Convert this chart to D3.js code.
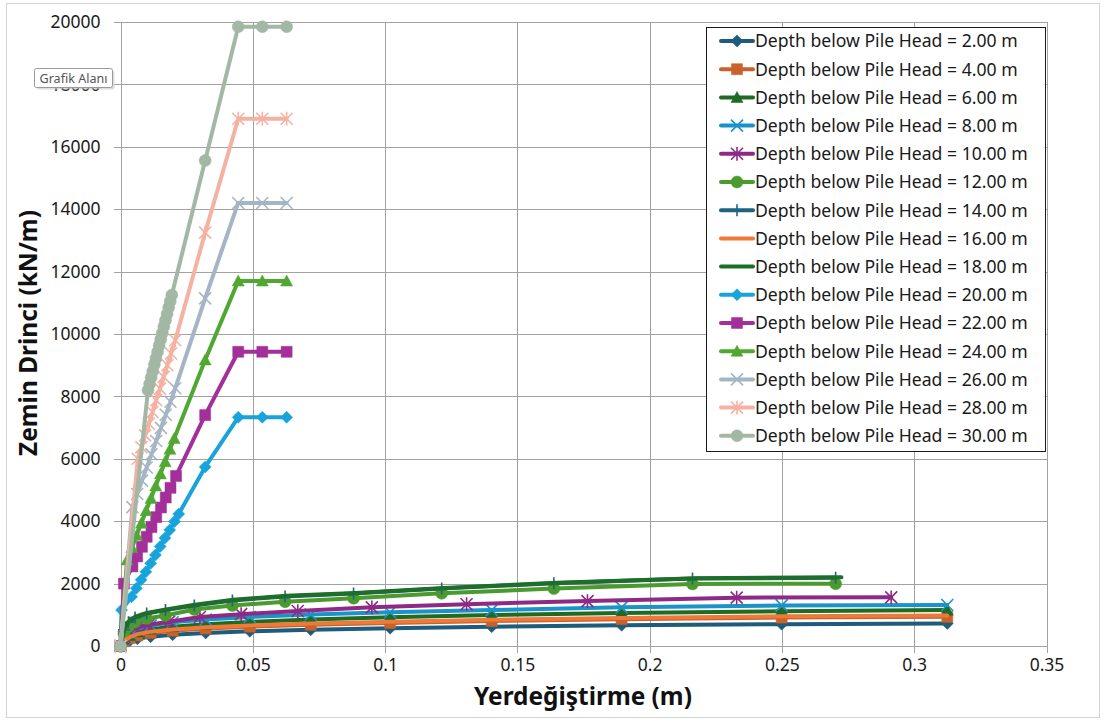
<!DOCTYPE html>
<html><head><meta charset="utf-8">
<script src="https://cdn.jsdelivr.net/npm/d3@7"></script>
<style>body{margin:0;background:#fff;} svg{display:block;}</style>
</head><body>
<svg id="chart" width="1107" height="722"></svg>
<script>
// ---------------- DATA ----------------
const depths = ["2.00","4.00","6.00","8.00","10.00","12.00","14.00","16.00","18.00","20.00","22.00","24.00","26.00","28.00","30.00"];
const xTicks = [0, 0.05, 0.1, 0.15, 0.2, 0.25, 0.3, 0.35];
const xTickLabels = ["0","0.05","0.1","0.15","0.2","0.25","0.3","0.35"];
const yTicks = [0,2000,4000,6000,8000,10000,12000,14000,16000,18000,20000];
const yTickLabels = ["0","2000","4000","6000","8000","10000","12000","14000","16000","18000","20000"];

// soft (large displacement) curves
const xSoftA  = [0, 0.0015, 0.0035, 0.0064, 0.0114, 0.0197, 0.0322, 0.0489, 0.0719, 0.1019, 0.1403, 0.1894, 0.2499, 0.3125];
const xSoft10 = [0, 0.0014, 0.0033, 0.0060, 0.0106, 0.0184, 0.0300, 0.0456, 0.0670, 0.0950, 0.1308, 0.1765, 0.2329, 0.2913];
const xSoft12 = [0, 0.0013, 0.0030, 0.0055, 0.0099, 0.0170, 0.0279, 0.0423, 0.0622, 0.0881, 0.1214, 0.1638, 0.2162, 0.2703];
const xSoft18 = [0, 0.0013, 0.0031, 0.0056, 0.0099, 0.0172, 0.0281, 0.0426, 0.0627, 0.0889, 0.1223, 0.1652, 0.2179, 0.2725];

const y02 = [0, 110, 170, 230, 300, 360, 420, 470, 520, 570, 620, 665, 700, 725];
const y04 = [0, 150, 250, 340, 420, 490, 560, 620, 680, 740, 800, 860, 910, 935];
const y06 = [0, 210, 340, 450, 540, 620, 700, 770, 850, 920, 990, 1060, 1115, 1150];
const y08 = [0, 260, 420, 550, 660, 760, 850, 930, 1010, 1080, 1150, 1240, 1300, 1315];
const y10 = [0, 300, 470, 590, 680, 780, 930, 1020, 1120, 1240, 1340, 1440, 1550, 1560];
const y12 = [0, 400, 620, 770, 880, 980, 1170, 1300, 1420, 1530, 1690, 1840, 1990, 1995];
const y14 = [0, 520, 760, 910, 1040, 1150, 1300, 1460, 1590, 1680, 1840, 2010, 2160, 2190];
const y16 = [0, 170, 280, 380, 460, 530, 600, 660, 720, 780, 840, 900, 950, 975];
const y18 = [0, 540, 790, 940, 1060, 1170, 1320, 1480, 1610, 1700, 1860, 2030, 2175, 2205];

// stiff (small displacement) curves
const x20 = [0, 0.0004, 0.0042, 0.0060, 0.0078, 0.0096, 0.0114, 0.0132, 0.0150, 0.0168, 0.0186, 0.0204, 0.0220, 0.0320, 0.0445, 0.0536, 0.0628];
const y20 = [0, 1150, 1580, 1850, 2120, 2380, 2650, 2920, 3190, 3460, 3720, 3990, 4230, 5740, 7330, 7330, 7330];
const x22 = [0, 0.0013, 0.0045, 0.0063, 0.0081, 0.0099, 0.0117, 0.0135, 0.0153, 0.0171, 0.0189, 0.0210, 0.0320, 0.0445, 0.0536, 0.0628];
const y22 = [0, 2000, 2550, 2870, 3180, 3500, 3810, 4130, 4440, 4760, 5070, 5450, 7400, 9430, 9430, 9430];
const x24 = [0, 0.0025, 0.0043, 0.0061, 0.0079, 0.0097, 0.0115, 0.0133, 0.0151, 0.0169, 0.0187, 0.0203, 0.0320, 0.0445, 0.0536, 0.0628];
const y24 = [0, 2760, 3150, 3550, 3940, 4340, 4730, 5130, 5520, 5910, 6310, 6650, 9170, 11700, 11700, 11700];
const x26 = [0, 0.0045, 0.0063, 0.0081, 0.0099, 0.0117, 0.0135, 0.0153, 0.0171, 0.0189, 0.0207, 0.0320, 0.0445, 0.0536, 0.0628];
const y26 = [0, 4450, 4870, 5300, 5720, 6140, 6570, 6990, 7410, 7830, 8260, 11140, 14200, 14200, 14200];
const x28 = [0, 0.0065, 0.0079, 0.0093, 0.0107, 0.0121, 0.0135, 0.0149, 0.0163, 0.0177, 0.0191, 0.0207, 0.0320, 0.0445, 0.0536, 0.0628];
const y28 = [0, 6000, 6375, 6750, 7125, 7500, 7875, 8250, 8625, 9000, 9375, 9800, 13250, 16900, 16900, 16900];
const x30 = [0, 0.0104, 0.0110, 0.0116, 0.0122, 0.0128, 0.0134, 0.0140, 0.0146, 0.0152, 0.0158, 0.0164, 0.0170, 0.0176, 0.0182, 0.0188, 0.0194, 0.0320, 0.0445, 0.0536, 0.0628];
const y30 = [0, 8200, 8400, 8610, 8810, 9020, 9220, 9420, 9630, 9830, 10030, 10240, 10440, 10640, 10850, 11050, 11250, 15560, 19850, 19850, 19850];

const seriesX = [xSoftA, xSoftA, xSoftA, xSoftA, xSoft10, xSoft12, xSoft12, xSoftA, xSoft18, x20, x22, x24, x26, x28, x30];
const seriesY = [y02, y04, y06, y08, y10, y12, y14, y16, y18, y20, y22, y24, y26, y28, y30];
const colors  = ["#1d5c7c","#c8612c","#1e6b24","#1a93c8","#8e2a86","#4a9a2e","#1f6384","#ee7a3a","#1d6e26","#18a3db","#a3309a","#50a832","#a5b5c5","#f4b2a2","#a2b8a4"];
const markers = ["diamond","square","triangle","x","star","circle","plus","none","none","diamond","square","triangle","x","star","circle"];

const xTitle = "Yerdeğiştirme (m)";
const yTitle = "Zemin Drinci (kN/m)";
const legendPrefix = "Depth below Pile Head = ";
const tooltipText = "Grafik Alanı";

// ---------------- DRAW ----------------
const svg = d3.select("#chart");
const FONT = "'Noto Sans', 'Open Sans', sans-serif";
const plot = {left: 120.5, right: 1046.5, top: 22, bottom: 646};
const x = d3.scaleLinear().domain([0, 0.35]).range([plot.left, plot.right]);
const y = d3.scaleLinear().domain([0, 20000]).range([plot.bottom, plot.top]);

function fitFont(sel, target) {
  const n = sel.node();
  const fs = parseFloat(sel.attr("font-size"));
  const w = n.getComputedTextLength();
  if (w > 0) sel.attr("font-size", (fs * target / w).toFixed(2));
}

// chart area border
svg.append("rect").attr("x", 6.5).attr("y", 3.5).attr("width", 1093).attr("height", 714)
  .attr("fill", "#fff").attr("stroke", "#d4d4d4");

// gridlines via axes
const gridColor = "#a2a2a2";
const gx = svg.append("g").attr("transform", `translate(0,${plot.bottom})`)
  .call(d3.axisBottom(x).tickValues(xTicks).tickSize(-(plot.bottom - plot.top)).tickFormat(""));
gx.select(".domain").remove();
gx.selectAll("line").attr("stroke", gridColor).attr("shape-rendering", "crispEdges");
const gy = svg.append("g").attr("transform", `translate(${plot.left},0)`)
  .call(d3.axisLeft(y).tickValues(yTicks).tickSize(-(plot.right - plot.left)).tickFormat(""));
gy.select(".domain").remove();
gy.selectAll("line").attr("stroke", gridColor).attr("shape-rendering", "crispEdges");

// axes with outside ticks and labels
const ax = svg.append("g").attr("transform", `translate(0,${plot.bottom})`)
  .call(d3.axisBottom(x).tickValues(xTicks).tickSize(7).tickPadding(6).tickFormat((d, i) => xTickLabels[i]));
ax.select(".domain").attr("stroke", gridColor).attr("shape-rendering", "crispEdges");
ax.selectAll("line").attr("stroke", gridColor).attr("shape-rendering", "crispEdges");
ax.selectAll("text").attr("font-family", FONT).attr("font-size", 17.5).attr("fill", "#1a1a1a");
const ay = svg.append("g").attr("transform", `translate(${plot.left},0)`)
  .call(d3.axisLeft(y).tickValues(yTicks).tickSize(7).tickPadding(13).tickFormat((d, i) => yTickLabels[i]));
ay.select(".domain").attr("stroke", gridColor).attr("shape-rendering", "crispEdges");
ay.selectAll("line").attr("stroke", gridColor).attr("shape-rendering", "crispEdges");
ay.selectAll("text").attr("font-family", FONT).attr("font-size", 17.5).attr("fill", "#1a1a1a");

// markers
function markerPath(type, r) {
  switch (type) {
    case "diamond": return `M0,${-r}L${r},0L0,${r}L${-r},0Z`;
    case "square": return `M${-r},${-r}H${r}V${r}H${-r}Z`;
    case "triangle": return `M0,${-r}L${r},${r*0.85}L${-r},${r*0.85}Z`;
    case "x": return `M${-r},${-r}L${r},${r}M${-r},${r}L${r},${-r}`;
    case "star": return `M${-r},${-r}L${r},${r}M${-r},${r}L${r},${-r}M0,${-r*1.15}L0,${r*1.15}`;
    case "plus": return `M${-r},0L${r},0M0,${-r}L0,${r}`;
    case "circle": return `M${r},0A${r},${r} 0 1,1 ${-r},0A${r},${r} 0 1,1 ${r},0Z`;
  }
  return "";
}
const strokeMarkers = new Set(["x","star","plus"]);
function drawMarker(g, type, color, cx, cy) {
  if (type === "none") return;
  const r = type === "square" ? 5.5 : 6;
  const p = g.append("path").attr("d", markerPath(type, r)).attr("transform", `translate(${cx},${cy})`);
  if (strokeMarkers.has(type)) p.attr("fill", "none").attr("stroke", color).attr("stroke-width", 1.6);
  else p.attr("fill", color).attr("stroke", color).attr("stroke-width", 0.5);
}

const line = d3.line().x(d => x(d[0])).y(d => y(d[1]));
const seriesG = svg.append("g");
depths.forEach((dep, i) => {
  const pts = seriesX[i].map((xv, j) => [xv, seriesY[i][j]]);
  const g = seriesG.append("g");
  g.append("path").datum(pts).attr("d", line).attr("fill", "none")
    .attr("stroke", colors[i]).attr("stroke-width", 4).attr("stroke-linejoin", "round").attr("stroke-linecap", "round");
  pts.forEach(p => drawMarker(g, markers[i], colors[i], x(p[0]), y(p[1])));
});

// legend
const lg = svg.append("g");
lg.append("rect").attr("x", 706.5).attr("y", 27.5).attr("width", 339).attr("height", 424)
  .attr("fill", "#fff").attr("stroke", "#1a1a1a").attr("stroke-width", 1);
const rowH = 28.2;
depths.forEach((dep, i) => {
  const cy = 41 + i * rowH;
  lg.append("line").attr("x1", 721).attr("x2", 753).attr("y1", cy).attr("y2", cy)
    .attr("stroke", colors[i]).attr("stroke-width", 4).attr("stroke-linecap", "round");
  drawMarker(lg, markers[i], colors[i], 737, cy);
  const t = lg.append("text").attr("x", 755).attr("y", cy).attr("dy", "0.36em")
    .attr("font-family", FONT).attr("font-size", 16.5).attr("fill", "#1a1a1a")
    .text(legendPrefix + dep + " m");
  if (i === 0) { fitFont(t, 263); lg.selectAll("text").attr("font-size", t.attr("font-size")); }
  else t.attr("font-size", lg.select("text").attr("font-size"));
});

// axis titles
const xt = svg.append("text").attr("x", 583).attr("y", 705).attr("text-anchor", "middle")
  .attr("font-family", FONT).attr("font-weight", "bold").attr("font-size", 22).attr("fill", "#111").text(xTitle);
fitFont(xt, 218);
const yt = svg.append("text").attr("transform", "translate(37,333) rotate(-90)").attr("text-anchor", "middle")
  .attr("font-family", FONT).attr("font-weight", "bold").attr("font-size", 22).attr("fill", "#111").text(yTitle);
fitFont(yt, 246);

// tooltip (hover label in the reference screenshot)
const tg = svg.append("g");
tg.append("rect").attr("x", 36.5).attr("y", 70.5).attr("width", 78).attr("height", 19)
  .attr("rx", 2).attr("fill", "#c8c8c8").attr("opacity", 0.6);
tg.append("rect").attr("x", 34.5).attr("y", 68.5).attr("width", 78).attr("height", 19)
  .attr("rx", 2).attr("fill", "#fff").attr("stroke", "#9a9a9a");
const tt = tg.append("text").attr("x", 73.5).attr("y", 78).attr("dy", "0.36em").attr("text-anchor", "middle")
  .attr("font-family", FONT).attr("font-size", 12.5).attr("fill", "#555").text(tooltipText);
fitFont(tt, 68);
</script>
</body></html>
